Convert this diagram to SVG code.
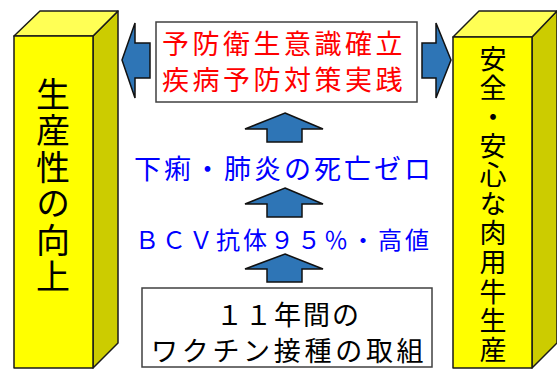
<svg xmlns="http://www.w3.org/2000/svg" width="557" height="370" viewBox="0 0 557 370">
<defs>
<style>
.front{fill:#FFFF00;stroke:#1a1a1a;stroke-width:1.5;stroke-linejoin:round}
.top{fill:#FFFF55;stroke:#1a1a1a;stroke-width:1.5;stroke-linejoin:round}
.side{fill:#CCCC00;stroke:#1a1a1a;stroke-width:1.5;stroke-linejoin:round}
.box{fill:#FFFFFF;stroke:#404040;stroke-width:1.5}
.arrow{fill:#2E75B6;stroke:#111111;stroke-width:1.5;stroke-linejoin:miter}
.t{font-family:"Noto Sans CJK JP","Noto Sans CJK SC",sans-serif;font-weight:400}
.v{writing-mode:vertical-rl;fill:#000}
.pl{font-size:34px;letter-spacing:2.5px}
.pr{font-size:27px;letter-spacing:2.1px}
.red{font-size:27px;fill:#FF0000;letter-spacing:3.5px}
.blue{fill:#0000FF}
.blk{fill:#000}
</style>
</defs>
<g id="pillar-left">
<polygon class="side" points="93,36 118,11 118,343 93,368"/>
<polygon class="top" points="14,36 40,11 118,11 93,36"/>
<rect class="front" x="14" y="36" width="79" height="332"/>
<text class="t v pl" x="53" y="77">生産性の向上</text>
</g>
<g id="pillar-right">
<polygon class="side" points="532,37 557,11 557,343 532,368"/>
<polygon class="top" points="453,37 479,11 557,11 532,37"/>
<rect class="front" x="453" y="37" width="79" height="331"/>
<text class="t v pr" x="493" y="45">安全・安心な肉用牛生産</text>
</g>
<g id="top-box">
<rect class="box" x="156" y="22" width="261" height="80"/>
<text class="t red" x="162" y="54">予防衛生意識確立</text>
<text class="t red" x="162" y="90">疾病予防対策実践</text>
</g>
<g id="label-death">
<text class="t blue" x="134" y="179" style="font-size:27px;letter-spacing:3px">下痢・肺炎の死亡ゼロ</text>
</g>
<g id="label-bcv">
<text class="t blue" x="135" y="249" style="font-size:24px;letter-spacing:3px">ＢＣＶ抗体９５％・高値</text>
</g>
<g id="bottom-box">
<rect class="box" x="142" y="288" width="290" height="79"/>
<text class="t blk" x="216" y="325" style="font-size:27px;letter-spacing:2px">１１年間の</text>
<text class="t blk" x="151" y="361" style="font-size:27px;letter-spacing:3.7px">ワクチン接種の取組</text>
</g>
<g id="connectors">
<polygon class="arrow" points="122,60 135,23 135,43 150,43 150,78 135,78 135,98"/>
<polygon class="arrow" points="451,60 436,23 436,43 422,43 422,78 436,78 436,98"/>
<polygon class="arrow" points="285,113 323,129 302,129 302,142 267,142 267,129 245,129"/>
<polygon class="arrow" points="285,188 323,204 302,204 302,217 267,217 267,204 245,204"/>
<polygon class="arrow" points="285,254 323,269 302,269 302,282 267,282 267,269 245,269"/>
</g>
</svg>
